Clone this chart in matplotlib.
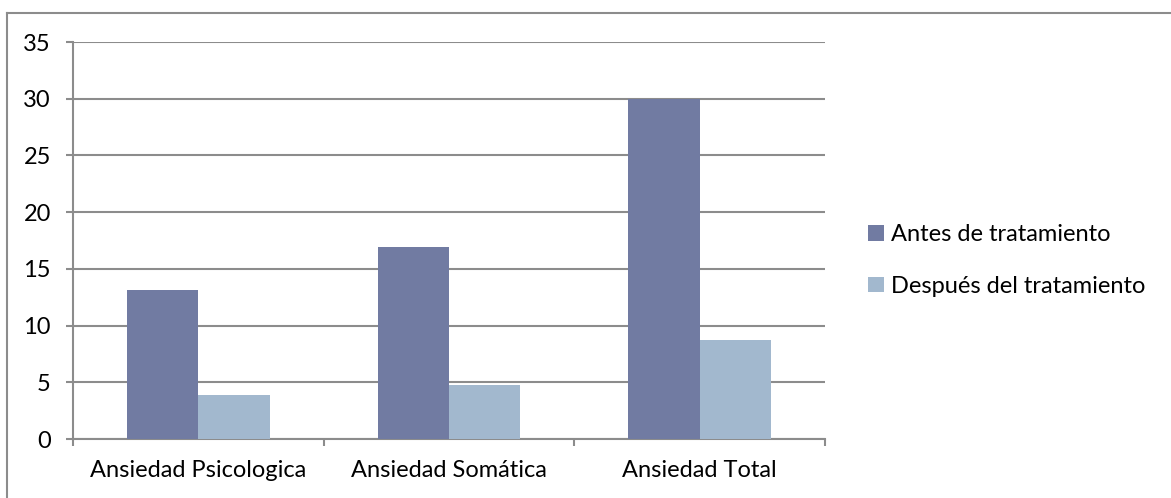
import matplotlib.pyplot as plt
from matplotlib.lines import Line2D
import numpy as np

categories = ["Ansiedad Psicologica", "Ansiedad Somática", "Ansiedad Total"]
antes = [13.1, 16.9, 30.0]
despues = [3.9, 4.8, 8.7]
seriesNames = ["Antes de tratamiento", "Después del tratamiento"]
yTicks = [0, 5, 10, 15, 20, 25, 30, 35]

plt.rcParams["font.family"] = ["Lato", "DejaVu Sans"]
gridColor = "#8c8c8c"
fontSize = 17

fig = plt.figure(figsize=(11.71, 4.98), dpi=100)
ax = fig.add_axes([73 / 1171, 1 - 439 / 498, (825 - 73) / 1171, (439 - 42) / 498])

# Grouped bars, two per category
x = np.arange(len(categories))
width = 0.285
ax.bar(x - width / 2, antes, width, color="#717ba2", label=seriesNames[0], zorder=3)
ax.bar(x + width / 2, despues, width, color="#a2b8ce", label=seriesNames[1], zorder=3)

ax.set_xlim(-0.5, len(categories) - 0.5)
ax.set_ylim(0, 35)
ax.set_yticks(yTicks)
ax.yaxis.grid(True, color=gridColor, linewidth=1.5, zorder=0)

# Category labels centred, tick marks on the boundaries
ax.set_xticks(x)
ax.set_xticklabels(categories, fontsize=fontSize)
ax.tick_params(axis="x", length=0, pad=15)
ax.set_xticks(np.arange(-0.5, len(categories)), minor=True)
ax.tick_params(axis="x", which="minor", length=5, width=1.5, color=gridColor)
ax.tick_params(axis="y", length=5, width=1.5, color=gridColor, labelsize=fontSize, pad=11)

for side in ["top", "right"]:
    ax.spines[side].set_visible(False)
for side in ["left", "bottom"]:
    ax.spines[side].set_color(gridColor)
    ax.spines[side].set_linewidth(1.5)

ax.legend(loc="center left", bbox_to_anchor=(1.045, 0.45), frameon=False,
          fontsize=fontSize, handlelength=0.65, handleheight=0.65,
          handletextpad=0.3, labelspacing=1.3, borderaxespad=0)

# Outer chart frame
fig.add_artist(Line2D([7 / 1171, 7 / 1171], [0, 1 - 13 / 498], color=gridColor, linewidth=1.5))
fig.add_artist(Line2D([7 / 1171, 1], [1 - 13 / 498, 1 - 13 / 498], color=gridColor, linewidth=1.5))

fig.savefig("out.png", dpi=100)
